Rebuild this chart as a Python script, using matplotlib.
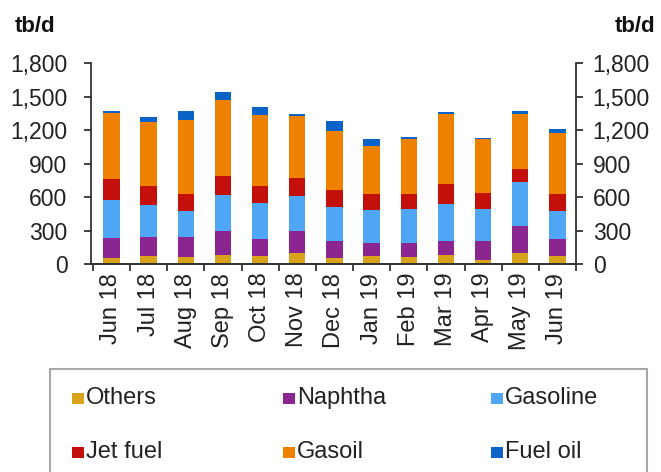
import matplotlib.pyplot as plt
from matplotlib.patches import Rectangle

plt.rcParams['font.family'] = ['Liberation Sans', 'DejaVu Sans']

months = ['Jun 18', 'Jul 18', 'Aug 18', 'Sep 18', 'Oct 18', 'Nov 18', 'Dec 18',
          'Jan 19', 'Feb 19', 'Mar 19', 'Apr 19', 'May 19', 'Jun 19']

# tb/d
others   = [59, 77, 62, 83, 77, 101, 59, 77, 65, 83, 38, 98, 74]
naphtha  = [172, 163, 181, 213, 151, 195, 151, 115, 125, 124, 169, 246, 154]
gasoline = [347, 294, 234, 327, 324, 312, 300, 294, 305, 330, 291, 395, 249]
jet_fuel = [184, 163, 151, 166, 145, 163, 154, 142, 133, 184, 139, 112, 155]
gasoil   = [591, 578, 665, 682, 638, 552, 531, 434, 493, 620, 481, 493, 543]
fuel_oil = [20, 45, 74, 74, 74, 18, 89, 59, 15, 18, 15, 29, 32]

series = [('Others', others, '#D9A21B'),
          ('Naphtha', naphtha, '#8B2690'),
          ('Gasoline', gasoline, '#4FA6F5'),
          ('Jet fuel', jet_fuel, '#C4100A'),
          ('Gasoil', gasoil, '#EE8100'),
          ('Fuel oil', fuel_oil, '#0A64C8')]

yticks = [0, 300, 600, 900, 1200, 1500, 1800]

W, H = 661, 472
fig = plt.figure(figsize=(W / 100, H / 100), dpi=100)
ax = fig.add_axes([91 / W, 207.7 / H, 485 / W, 201.3 / H])

x = range(len(months))
bottom = [0] * len(months)
for name, vals, col in series:
    ax.bar(x, vals, width=0.44, bottom=bottom, color=col, label=name, linewidth=0)
    bottom = [b + v for b, v in zip(bottom, vals)]

ax.set_xlim(-0.55, len(months) - 0.52)
ax.set_ylim(0, 1800)
ax.set_yticks(yticks)
ax.set_yticklabels([f'{v:,}' for v in yticks])
# ticks sit between the bars, labels under each bar
ax.set_xticks([i - 0.5 for i in range(len(months) + 1)])
ax.set_xticklabels([])
ax.set_xticks(list(x), minor=True)
ax.set_xticklabels(months, minor=True, rotation=90, fontsize=17, color='#222222')
ax.tick_params(axis='x', which='minor', length=0, pad=6)
ax.tick_params(axis='x', which='major', length=5, width=1.3, color='#333333')
ax.tick_params(axis='y', length=5, width=1.3, color='#333333', labelsize=16.5,
               labelcolor='#222222', pad=12)

ax2 = ax.twinx()
ax2.set_ylim(0, 1800)
ax2.set_yticks(yticks)
ax2.set_yticklabels([f'{v:,}' for v in yticks])
ax2.tick_params(axis='y', length=5, width=1.3, color='#333333', labelsize=16.5,
                labelcolor='#222222', pad=7)

for a in (ax, ax2):
    a.spines['top'].set_visible(False)
    for s in ('left', 'right', 'bottom'):
        a.spines[s].set_color('#333333')
        a.spines[s].set_linewidth(1.3)
ax.spines['right'].set_visible(False)
ax2.spines['left'].set_visible(False)

fig.text(15 / W, 1 - 26 / H, 'tb/d', fontsize=16, fontweight='bold', va='center', color='#111111')
fig.text(655 / W, 1 - 26 / H, 'tb/d', fontsize=16, fontweight='bold', va='center', ha='right',
         color='#111111')

# legend box
fig.add_artist(Rectangle((50 / W, -0.02), 597 / W, 0.02 + 103 / H, transform=fig.transFigure,
                         facecolor='white', edgecolor='#A8A8A8', linewidth=1.5))
col_x = [72, 283, 491]
row_y = [398, 452]
for k, (name, vals, col) in enumerate(series):
    cx = col_x[k % 3]
    cy = row_y[k // 3]
    fig.add_artist(Rectangle((cx / W, (H - cy - 5.5) / H), 12 / W, 11 / H,
                             transform=fig.transFigure, facecolor=col, linewidth=0))
    fig.text((cx + 14) / W, (H - cy) / H, name, fontsize=17, va='center', color='#222222')

fig.savefig('out.png', dpi=100)
